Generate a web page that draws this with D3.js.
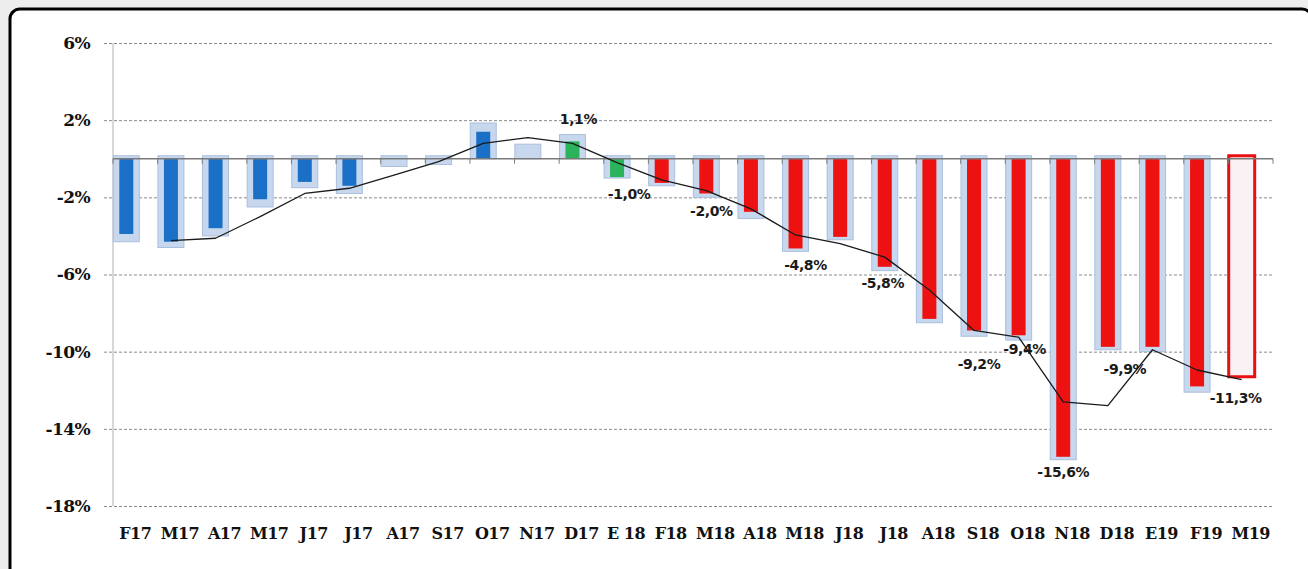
<!DOCTYPE html>
<html>
<head>
<meta charset="utf-8">
<script src="https://cdn.jsdelivr.net/npm/d3@7"></script>
<style>
  body { margin: 0; background: #ededed; }
  svg { display: block; }
</style>
</head>
<body>
<div id="chart"></div>
<script>
// months, Feb 2017 .. Mar 2019
const months = ['F17', 'M17', 'A17', 'M17', 'J17', 'J17', 'A17', 'S17', 'O17', 'N17', 'D17', 'E 18',
  'F18', 'M18', 'A18', 'M18', 'J18', 'J18', 'A18', 'S18', 'O18', 'N18', 'D18', 'E19', 'F19', 'M19'];

// wide light bars (labelled values)
const outerValues = [-4.3, -4.6, -4.0, -2.5, -1.5, -1.8, -0.4, -0.3, 1.7, 0.6, 1.1, -1.0,
  -1.4, -2.0, -3.1, -4.8, -4.2, -5.8, -8.5, -9.2, -9.4, -15.6, -9.9, -10.0, -12.1, -11.3];

// narrow coloured bars
const innerValues = [-3.9, -4.3, -3.6, -2.1, -1.2, -1.4, 0, 0, 1.4, 0, 0.9, -0.95,
  -1.25, -1.8, -2.75, -4.65, -4.05, -5.6, -8.3, -8.9, -9.15, -15.45, -9.75, -9.75, -11.8, -11.5];

// trend line
const trendValues = [null, -4.24, -4.12, -3.0, -1.8, -1.53, -0.85, -0.15, 0.8, 1.1, 0.8, -0.2,
  -1.1, -1.65, -2.6, -3.95, -4.4, -5.1, -6.8, -8.9, -9.25, -12.6, -12.8, -9.9, -10.95, -11.45];

// which months get a value label
const labelled = [10, 11, 13, 15, 17, 19, 20, 21, 22, 25];

const yTicks = [6, 2, -2, -6, -10, -14, -18];

// label nudges [dx, dy] from the bar end
const nudge = {10: [6, -18], 11: [12, 16], 13: [5, 14], 15: [10, 14], 17: [-2, 12],
  19: [5, 28], 20: [6, 9], 21: [0, 12], 22: [17, 19], 25: [-6, 21]};

const width = 1308, height = 569;
const plot = {left: 113, right: 1273, top: 43, bottom: 506};
const shift = -9;

const svg = d3.select('#chart').append('svg')
  .attr('width', width)
  .attr('height', height);

svg.append('rect')
  .attr('x', 10).attr('y', 9)
  .attr('width', 1302).attr('height', 575)
  .attr('rx', 10)
  .attr('fill', '#fff')
  .attr('stroke', '#000')
  .attr('stroke-width', 3);

const x = d3.scaleBand()
  .domain(d3.range(months.length))
  .range([plot.left, plot.right])
  .padding(0);

const y = d3.scaleLinear()
  .domain([-18, 6])
  .range([plot.bottom, plot.top]);

const cx = i => x(i) + x.bandwidth() / 2 + shift;

// gridlines + y labels
const yAxis = d3.axisLeft(y)
  .tickValues(yTicks)
  .tickSize(-(plot.right - 104))
  .tickPadding(14)
  .tickFormat(d => d + '%');

const gy = svg.append('g')
  .attr('transform', 'translate(104,0)')
  .call(yAxis);
gy.select('.domain').remove();
gy.selectAll('.tick line')
  .attr('stroke', '#8a8a8a')
  .attr('stroke-dasharray', '3,2');
gy.selectAll('.tick text')
  .attr('font-family', 'DejaVu Serif')
  .attr('font-weight', 'bold')
  .attr('font-size', 17)
  .attr('letter-spacing', -0.6)
  .attr('fill', '#111');

// vertical axis line
svg.append('line')
  .attr('x1', plot.left).attr('x2', plot.left)
  .attr('y1', y(6)).attr('y2', y(-18))
  .attr('stroke', '#b0b0b0');

// month labels along the bottom
const xAxis = d3.axisBottom(x)
  .tickSize(0)
  .tickPadding(22)
  .tickFormat(i => months[i]);

const gx = svg.append('g')
  .attr('transform', `translate(0,${plot.bottom})`)
  .call(xAxis);
gx.select('.domain').remove();
gx.selectAll('.tick text')
  .attr('font-family', 'DejaVu Serif')
  .attr('font-weight', 'bold')
  .attr('font-size', 16)
  .attr('letter-spacing', -0.5)
  .attr('fill', '#111');

// light bars
const barW = 26, innerW = 14;
const last = months.length - 1;
svg.append('g')
  .selectAll('rect')
  .data(outerValues)
  .join('rect')
  .attr('x', (d, i) => cx(i) - barW / 2)
  .attr('y', d => y(Math.max(0, d)) - 3)
  .attr('width', barW)
  .attr('height', d => Math.abs(y(d) - y(0)) + 3)
  .attr('fill', (d, i) => i === last ? '#f9f1f3' : '#c7d8ee')
  .attr('stroke', (d, i) => i === last ? '#e81010' : '#aabfdc')
  .attr('stroke-width', (d, i) => i === last ? 3 : 1);

// coloured bars
const tone = i => i < 10 ? '#1a6fc6' : i < 12 ? '#2bb35b' : '#ee1111';
svg.append('g')
  .selectAll('rect')
  .data(innerValues.map((v, i) => ({v, i})).filter(d => d.v !== 0 && d.i < last))
  .join('rect')
  .attr('x', d => cx(d.i) - innerW / 2)
  .attr('y', d => y(Math.max(0, d.v)))
  .attr('width', innerW)
  .attr('height', d => Math.abs(y(d.v) - y(0)))
  .attr('fill', d => tone(d.i));

// zero line with category ticks
svg.append('line')
  .attr('x1', plot.left).attr('x2', plot.right)
  .attr('y1', y(0)).attr('y2', y(0))
  .attr('stroke', '#7a7a7a')
  .attr('stroke-width', 1.5);
svg.append('g')
  .selectAll('line')
  .data(d3.range(months.length + 1))
  .join('line')
  .attr('x1', i => plot.left + i * x.step())
  .attr('x2', i => plot.left + i * x.step())
  .attr('y1', y(0))
  .attr('y2', y(0) + 5)
  .attr('stroke', '#7a7a7a');

// trend line
const line = d3.line()
  .defined(d => d.v !== null)
  .x(d => cx(d.i))
  .y(d => y(d.v));

svg.append('path')
  .datum(trendValues.map((v, i) => ({v, i})))
  .attr('d', line)
  .attr('fill', 'none')
  .attr('stroke', '#1a1a1a')
  .attr('stroke-width', 1.3)
  .attr('stroke-linejoin', 'round');

// value labels
const fmt = v => d3.format('.1f')(v).replace('.', ',').replace('\u2212', '-') + '%';
svg.append('g')
  .selectAll('text')
  .data(labelled)
  .join('text')
  .attr('x', i => cx(i) + nudge[i][0])
  .attr('y', i => y(outerValues[i]) + nudge[i][1])
  .attr('dy', '0.35em')
  .attr('text-anchor', 'middle')
  .attr('font-family', 'DejaVu Sans')
  .attr('font-weight', 'bold')
  .attr('font-size', 14)
  .attr('letter-spacing', -0.4)
  .attr('fill', '#1a1a1a')
  .text(i => fmt(outerValues[i]));
</script>
</body>
</html>
